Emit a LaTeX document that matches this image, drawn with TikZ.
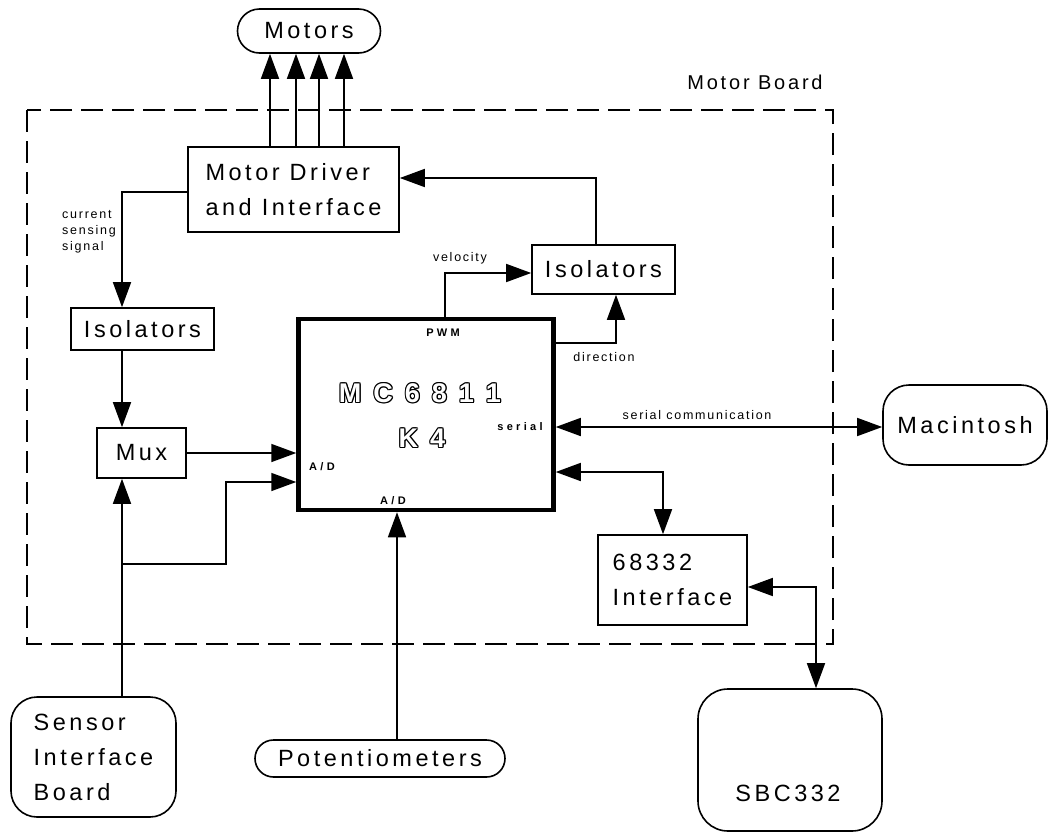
\documentclass[tikz,border=0pt]{standalone}
\usepackage{fontspec}
\setmainfont{Liberation Sans}
\newfontfamily\trackA[LetterSpace=15]{Liberation Sans}
\newfontfamily\trackB[LetterSpace=14]{Liberation Sans}
\newfontfamily\trackC[LetterSpace=30]{Liberation Sans}
\usetikzlibrary{arrows.meta}
\newcommand\outlinetext[1]{\leavevmode
 \rlap{\kern-1.1pt#1}\rlap{\kern1.1pt#1}\rlap{\raisebox{1.1pt}{#1}}\rlap{\raisebox{-1.1pt}{#1}}%
 \rlap{\kern-0.8pt\raisebox{0.8pt}{#1}}\rlap{\kern0.8pt\raisebox{0.8pt}{#1}}%
 \rlap{\kern-0.8pt\raisebox{-0.8pt}{#1}}\rlap{\kern0.8pt\raisebox{-0.8pt}{#1}}%
 \textcolor{white}{#1}}
\tikzset{
  bigtext/.style={font=\trackA\fontsize{23.5}{35}\selectfont},
  box/.style={draw, line width=1.6pt, inner sep=0pt, align=left, bigtext},
  rbox/.style={box, rounded corners=#1},
  lbl/.style={font=\trackB\fontsize{12.5}{16}\selectfont, inner sep=0pt},
  blbl/.style={font=\trackC\bfseries\fontsize{11}{13}\selectfont, inner sep=0pt},
  arr/.style={line width=1.6pt, -{Triangle[length=25pt 0 0,width=18pt 0 0]}},
  dbl/.style={line width=1.6pt, {Triangle[length=25pt 0 0,width=18pt 0 0]}-{Triangle[length=25pt 0 0,width=18pt 0 0]}},
}
\begin{document}
\begin{tikzpicture}[x=1pt,y=-1pt]
\path[use as bounding box] (0,0) rectangle (1050,833);

% motor board frame
\draw[line width=1.6pt, dash pattern=on 22pt off 9pt] (27,110) rectangle (833,644);
\node[font=\trackB\fontsize{20}{24}\selectfont] (mb) at (755,82) {Motor Board};

% nodes
\node[rbox=22pt, minimum width=143pt, minimum height=44pt] (motors) at (309,31) {Motors};
\node[box, minimum width=211pt, minimum height=85pt] (mdrv) at (293.5,189.5) {Motor Driver\\and Interface};
\node[box, minimum width=143pt, minimum height=42pt] (isoL) at (142.5,329) {Isolators};
\node[box, minimum width=89pt, minimum height=50pt] (mux) at (141.5,453) {Mux};
\node[draw, line width=4.5pt, minimum width=255pt, minimum height=191pt] (mc) at (426,414.5) {};
\node[box, minimum width=143pt, minimum height=49pt] (isoR) at (603.5,269.5) {Isolators};
\node[box, minimum width=149pt, minimum height=90pt] (i68) at (672.5,580) {68332\\Interface};
\node[rbox=26pt, minimum width=164pt, minimum height=80pt] (mac) at (965,425) {Macintosh};
\node[rbox=26pt, minimum width=165pt, minimum height=120pt] (sib) at (93.5,757) {Sensor\\Interface\\Board};
\node[rbox=18.5pt, minimum width=250pt, minimum height=37pt] (pot) at (380,758.5) {Potentiometers};
\node[rbox=30pt, minimum width=184pt, minimum height=142pt] (sbc) at (790,760) {};
\node[bigtext, inner sep=0pt] (sbct) at (788,793) {SBC332};

% chip texts
\node[font=\bfseries\fontsize{27}{30}\selectfont, inner sep=0pt] (mct) at (420,393) {\outlinetext{M\,\ C\,\ 6\,\ 8\,\ 1\,\ 1}};
\node[font=\bfseries\fontsize{27}{30}\selectfont, inner sep=0pt] (k4t) at (422,438) {\outlinetext{K\,\ 4}};
\node[blbl] (pwm) at (443,333) {PWM};
\node[blbl] (adl) at (322,467) {A/D};
\node[blbl] (adb) at (393,501) {A/D};
\node[blbl] (ser) at (520,427) {serial};

% labels
\node[lbl, align=left, anchor=west] (csl) at (62,232) {current\\sensing\\signal};
\node[lbl] (vel) at (460,258) {velocity};
\node[lbl] (dir) at (604,357) {direction};
\node[lbl] (scl) at (697,415) {serial communication};

% helper coordinates
\coordinate (m1) at (270,0);
\coordinate (m2) at (296,0);
\coordinate (m3) at (319,0);
\coordinate (m4) at (344,0);
\coordinate (t1) at (596,178);
\coordinate (cs) at (122,192);
\coordinate (jn) at (122,564);
\coordinate (j2) at (226,482);
\coordinate (pp) at (397,0);
\coordinate (vv) at (445,273);
\coordinate (dd) at (616,343);
\coordinate (ss) at (0,427);
\coordinate (qq) at (663,472);
\coordinate (rr) at (816,587);

% connectors
\foreach \m in {m1,m2,m3,m4}
  \draw[arr] (mdrv.north -| \m) -- (motors.south -| \m);
\draw[arr] (isoR.north -| t1) -- (t1) -- (mdrv.east |- t1);
\draw[arr] (mdrv.west |- cs) -- (cs) -- (isoL.north -| cs);
\draw[arr] (isoL.south -| cs) -- (mux.north -| cs);
\draw[arr] (mux.east) -- (mc.west |- mux.east);
\draw[arr] (sib.north -| cs) -- (mux.south -| cs);
\draw[arr] (jn) -| (j2) -- (mc.west |- j2);
\draw[arr] (pot.north -| pp) -- (mc.south -| pp);
\draw[arr] (mc.north -| vv) -- (vv) -- (isoR.west |- vv);
\draw[arr] (mc.east |- dd) -- (dd) -- (isoR.south -| dd);
\draw[dbl] (mc.east |- ss) -- (mac.west |- ss);
\draw[dbl] (mc.east |- qq) -- (qq) -- (i68.north -| qq);
\draw[dbl] (i68.east |- rr) -- (rr) -- (sbc.north -| rr);
\end{tikzpicture}
\end{document}
